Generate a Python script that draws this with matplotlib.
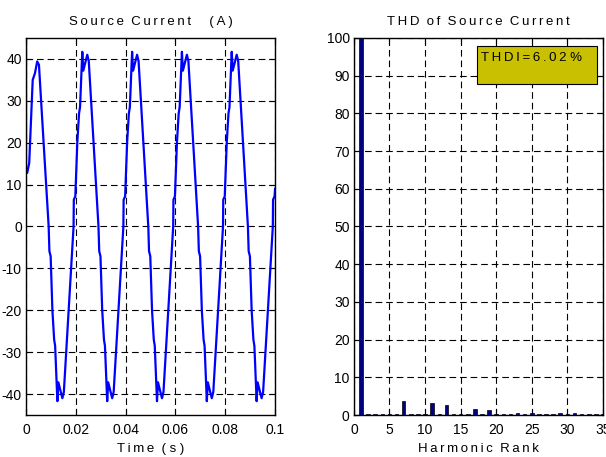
import matplotlib
matplotlib.use('Agg')
import matplotlib.pyplot as plt
from matplotlib.patches import Rectangle

plt.rcParams['font.family'] = ['Liberation Sans', 'DejaVu Sans']
plt.rcParams['axes.unicode_minus'] = False

# source current waveform (s, A)
t_src = [0.0, 0.0, 0.0005, 0.0013, 0.0023, 0.0027, 0.0036, 0.0045, 0.0052, 0.0070, 0.0091,
         0.0094, 0.0099, 0.0106, 0.0113, 0.0117, 0.0126, 0.0130, 0.0146, 0.0152, 0.0177, 0.0191,
         0.0192, 0.0198, 0.0206, 0.0213, 0.0217, 0.0226, 0.0230, 0.0246, 0.0252, 0.0277, 0.0291,
         0.0294, 0.0299, 0.0306, 0.0313, 0.0317, 0.0326, 0.0330, 0.0346, 0.0352, 0.0377, 0.0391,
         0.0392, 0.0398, 0.0406, 0.0413, 0.0417, 0.0426, 0.0430, 0.0446, 0.0452, 0.0477, 0.0491,
         0.0494, 0.0499, 0.0506, 0.0513, 0.0517, 0.0526, 0.0530, 0.0546, 0.0552, 0.0577, 0.0591,
         0.0592, 0.0598, 0.0606, 0.0613, 0.0617, 0.0626, 0.0630, 0.0646, 0.0652, 0.0677, 0.0691,
         0.0694, 0.0699, 0.0706, 0.0713, 0.0717, 0.0726, 0.0730, 0.0746, 0.0752, 0.0777, 0.0791,
         0.0792, 0.0798, 0.0806, 0.0813, 0.0817, 0.0826, 0.0830, 0.0846, 0.0852, 0.0877, 0.0891,
         0.0894, 0.0899, 0.0906, 0.0913, 0.0917, 0.0926, 0.0930, 0.0946, 0.0952, 0.0977, 0.0991,
         0.0992, 0.0998, 0.1000]
i_src = [45, 12.8, 12.8, 15.2, 29.5, 35, 36.6, 39.4, 38.6, 20.7, 0,
         -5.9, -7.1, -20, -27, -28.5, -41.7, -37.2, -41, -39.5, -14.2, 0,
         6.4, 7.2, 20, 27, 28.5, 41.7, 37.2, 41, 39.5, 14.2, 0,
         -5.9, -7.1, -20, -27, -28.5, -41.7, -37.2, -41, -39.5, -14.2, 0,
         6.4, 7.2, 20, 27, 28.5, 41.7, 37.2, 41, 39.5, 14.2, 0,
         -5.9, -7.1, -20, -27, -28.5, -41.7, -37.2, -41, -39.5, -14.2, 0,
         6.4, 7.2, 20, 27, 28.5, 41.7, 37.2, 41, 39.5, 14.2, 0,
         -5.9, -7.1, -20, -27, -28.5, -41.7, -37.2, -41, -39.5, -14.2, 0,
         6.4, 7.2, 20, 27, 28.5, 41.7, 37.2, 41, 39.5, 14.2, 0,
         -5.9, -7.1, -20, -27, -28.5, -41.7, -37.2, -41, -39.5, -14.2, 0,
         6.4, 7.2, 9]

# harmonic spectrum (% of fundamental)
harm_rank = list(range(0, 36))
harm_mag = [0, 100, 0.3, 0.3, 0.3, 0.3, 0.3, 3.8, 0.3, 0.3, 0.3, 3.2, 0.3, 2.6, 0.3, 0.3,
            0.3, 1.6, 0.3, 1.2, 0.3, 0.3, 0.3, 0.6, 0.3, 0.6, 0.3, 0.3, 0.3, 0.4, 0.3, 0.4,
            0.3, 0.3, 0.3, 0.3]

time_ticks = [0, 0.02, 0.04, 0.06, 0.08, 0.1]
time_labels = ['0', '0.02', '0.04', '0.06', '0.08', '0.1']
cur_ticks = list(range(-40, 41, 10))
rank_ticks = list(range(0, 36, 5))
pct_ticks = list(range(0, 101, 10))


def spaced(s, gap='  '):
    # letter-spaced text like the old matlab export
    return gap.join('\u2009'.join(w) for w in s.split(' '))


fig = plt.figure(figsize=(6.06, 4.57), dpi=100)
ax1 = fig.add_axes([0.0429, 0.0919, 0.411, 0.825])
ax2 = fig.add_axes([0.584, 0.0919, 0.411, 0.825])

dash = (0, (6, 3.5))

# left: source current
ax1.plot(t_src, i_src, color='#0000ff', lw=1.6)
ax1.set_xlim(0, 0.1)
ax1.set_ylim(-45, 45)
ax1.set_xticks(time_ticks)
ax1.set_xticklabels(time_labels)
ax1.set_yticks(cur_ticks)
ax1.grid(True, color='black', linestyle=dash, lw=0.8)
ax1.set_title(spaced('Source Current') + '     ' + spaced('( A )', ' '), fontsize=9.5, pad=9)
ax1.set_xlabel(spaced('Time') + '  ' + spaced('( s )', ' '), fontsize=9.5, labelpad=4)

# right: harmonic spectrum
ax2.bar(harm_rank, harm_mag, width=0.5, color='#000080', edgecolor='black', lw=0.5, zorder=3)
ax2.set_xlim(0, 35)
ax2.set_ylim(0, 100)
ax2.set_xticks(rank_ticks)
ax2.set_yticks(pct_ticks)
ax2.grid(True, color='black', linestyle=dash, lw=0.8, zorder=1)
ax2.set_axisbelow(True)
ax2.set_title(spaced('THD of Source Current'), fontsize=9.5, pad=9)
ax2.set_xlabel(spaced('Harmonic Rank'), fontsize=9.5, labelpad=4)
ax2.add_patch(Rectangle((17.3, 87.8), 16.9, 10.1, facecolor='#c8c000',
                        edgecolor='black', lw=0.8, zorder=4))
ax2.text(17.8, 94.6, spaced('THDI=6.02') + ' %', fontsize=9.5, va='center', ha='left', zorder=5)

for ax in (ax1, ax2):
    ax.tick_params(direction='in', top=True, right=True, length=4, labelsize=10, pad=3)
    ax.tick_params(axis='x', pad=6)
    for sp in ax.spines.values():
        sp.set_linewidth(1.0)

plt.savefig('out.png', dpi=100)
plt.close()
